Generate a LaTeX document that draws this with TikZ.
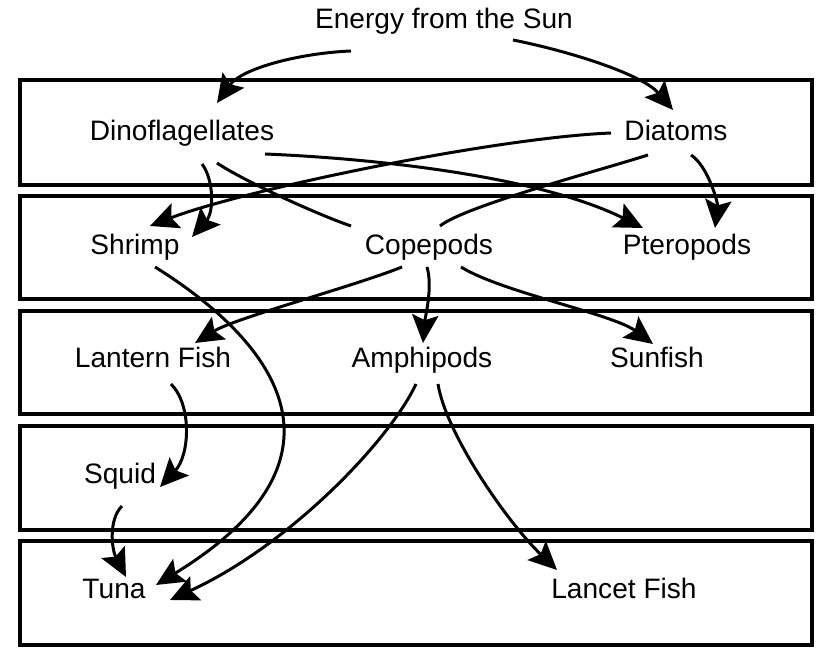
\documentclass[tikz,border=0pt]{standalone}
\usepackage{fontspec}
\setmainfont{Liberation Sans}
\usetikzlibrary{arrows.meta}

\tikzset{
  org/.style={anchor=base, inner sep=0pt, text height=11.5pt, text depth=3.3pt,
    font=\fontsize{16}{19}\selectfont},
  feed/.style={line width=1.7pt, -{Stealth[length=16pt,width=15pt,inset=3pt]}},
  link/.style={line width=1.7pt},
  zone/.style={line width=2pt}
}

\begin{document}
\begin{tikzpicture}[x=0.02cm,y=-0.02cm]
\useasboundingbox (0,0) rectangle (833,661);
% the five depth zones
\foreach \t/\b in {80/185, 196/299, 311/414, 426/530, 541/645}
  \draw[zone] (20,\t) rectangle (812,\b);

	\node[org] (sun) at (444,28.5) {Energy from the Sun};
	\node[org] (dino) at (182,140.5) {Dinoflagellates};
	\node[org] (diat) at (676,140.5) {Diatoms};
	\node[org] (shrimp) at (135,254.5) {Shrimp};
	\node[org] (cope) at (429,254.5) {Copepods};
	\node[org] (ptero) at (687,254.5) {Pteropods};
	\node[org] (lantern) at (153,367.5) {Lantern Fish};
	\node[org] (amphi) at (422,367.5) {Amphipods};
	\node[org] (sunfish) at (657,367.5) {Sunfish};
	\node[org] (squid) at (120,483.5) {Squid};
	\node[org] (tuna) at (114,598.5) {Tuna};
	\node[org] (lancet) at (624,598.5) {Lancet Fish};

% sunlight
\draw[feed] ([shift={(-93,22.5)}]sun.base) .. controls +(-50,2) and +(25,-35) .. ([shift={(35,-37.5)}]dino.base);
\draw[feed] ([shift={(69,11.5)}]sun.base) .. controls +(60,12) and +(-30,-35) .. ([shift={(-3,-30.5)}]diat.base);
% plankton
\draw[feed] ([shift={(-65,-7.5)}]diat.base) .. controls +(-120,5) and +(90,-35) .. ([shift={(15,-28.5)}]shrimp.base);
\draw[feed] ([shift={(20,23.5)}]dino.base) .. controls +(12,16) and +(22,-25) .. ([shift={(57,-17.5)}]shrimp.base);
\draw[link] ([shift={(35,22.5)}]dino.base) .. controls +(25,17) and +(-35,-12) .. ([shift={(-78,-28.5)}]cope.base);
\draw[feed] ([shift={(83,13.5)}]dino.base) .. controls +(120,5) and +(-100,-50) .. ([shift={(-44,-26.5)}]ptero.base);
\draw[feed] ([shift={(15,14.5)}]diat.base) .. controls +(17,11) and +(3,-25) .. ([shift={(28,-26.5)}]ptero.base);
\draw[link] ([shift={(-28,14.5)}]diat.base) .. controls +(-50,16) and +(25,-20) .. ([shift={(11,-28.5)}]cope.base);
% copepods
\draw[feed] ([shift={(-27,12.5)}]cope.base) .. controls +(-50,20) and +(40,-25) .. ([shift={(42,-24.5)}]lantern.base);
\draw[feed] ([shift={(-2,12.5)}]cope.base) .. controls +(6,20) and +(2,-25) .. ([shift={(1,-24.5)}]amphi.base);
\draw[feed] ([shift={(32,12.5)}]cope.base) .. controls +(40,25) and +(-40,-30) .. ([shift={(-4,-23.5)}]sunfish.base);
% down to the deep
\draw[feed] ([shift={(20,12.5)}]shrimp.base) .. controls +(125,78) and +(204,-125) .. ([shift={(42,-13.5)}]tuna.base);
\draw[feed] ([shift={(18,16.5)}]lantern.base) .. controls +(21,21) and +(30,-32) .. ([shift={(40,3.5)}]squid.base);
\draw[feed] ([shift={(2,22.5)}]squid.base) .. controls +(-14,14) and +(-14,-27) .. ([shift={(12,-21.5)}]tuna.base);
\draw[feed] ([shift={(-6,16.5)}]amphi.base) .. controls +(-26,56) and +(120,-55) .. ([shift={(56,1.5)}]tuna.base);
\draw[feed] ([shift={(16,16.5)}]amphi.base) .. controls +(8,50) and +(-50,-48) .. ([shift={(-67,-28.5)}]lancet.base);
\end{tikzpicture}
\end{document}
